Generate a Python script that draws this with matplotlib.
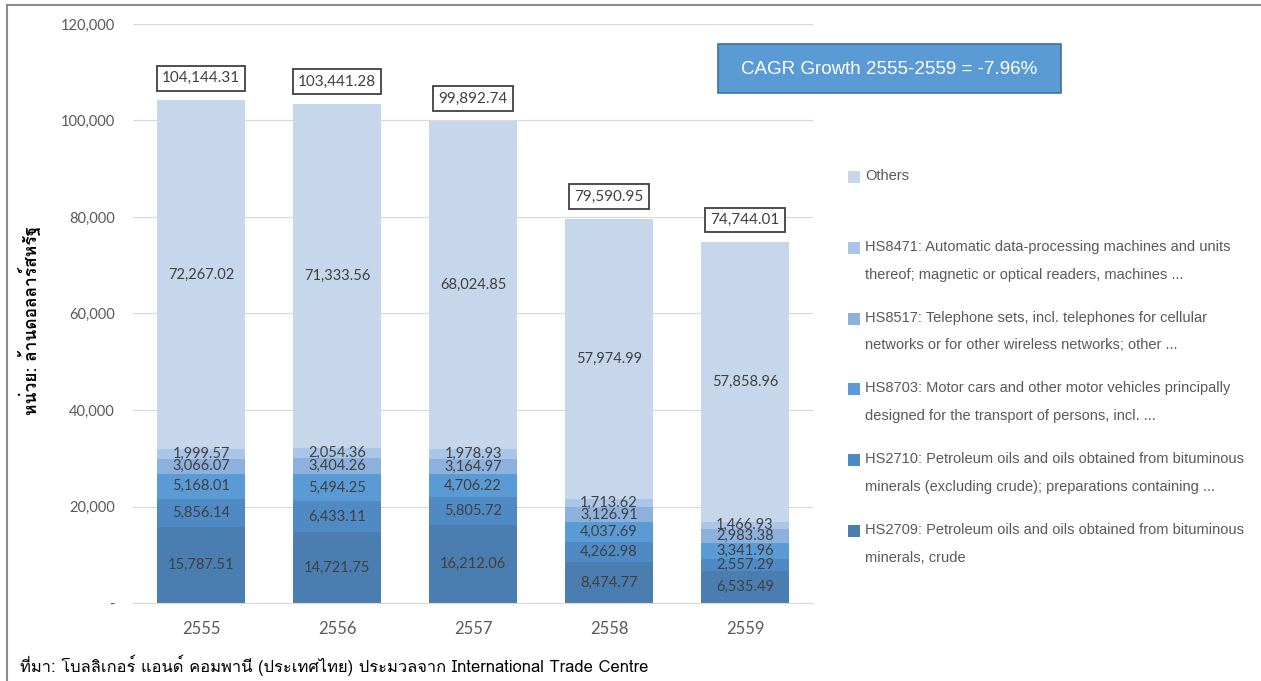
import matplotlib
matplotlib.use("Agg")
import matplotlib.pyplot as plt
from matplotlib import font_manager, ft2font
from matplotlib.patches import Rectangle
from matplotlib.ticker import FuncFormatter

# ---- data -------------------------------------------------------------
years = ["2555", "2556", "2557", "2558", "2559"]
hs2709 = [15787.51, 14721.75, 16212.06, 8474.77, 6535.49]
hs2710 = [5856.14, 6433.11, 5805.72, 4262.98, 2557.29]
hs8703 = [5168.01, 5494.25, 4706.22, 4037.69, 3341.96]
hs8517 = [3066.07, 3404.26, 3164.97, 3126.91, 2983.38]
hs8471 = [1999.57, 2054.36, 1978.93, 1713.62, 1466.93]
others = [72267.02, 71333.56, 68024.85, 57974.99, 57858.96]
totals = [104144.31, 103441.28, 99892.74, 79590.95, 74744.01]

series_labels = [
    "HS2709: Petroleum oils and oils obtained from bituminous\nminerals, crude",
    "HS2710: Petroleum oils and oils obtained from bituminous\nminerals (excluding crude); preparations containing ...",
    "HS8703: Motor cars and other motor vehicles principally\ndesigned for the transport of persons, incl. ...",
    "HS8517: Telephone sets, incl. telephones for cellular\nnetworks or for other wireless networks; other ...",
    "HS8471: Automatic data-processing machines and units\nthereof; magnetic or optical readers, machines ...",
    "Others",
]
series_values = [hs2709, hs2710, hs8703, hs8517, hs8471, others]
series_colors = ["#4A7EB1", "#4F8AC4", "#5B9BD5", "#8DB1DC", "#ABC5E6", "#C6D7EC"]

y_ticks = [0, 20000, 40000, 60000, 80000, 100000, 120000]
cagr_text = "CAGR Growth 2555-2559 = -7.96%"
y_title = "หน่วย: ล้านดอลลาร์สหรัฐ"
source_text = "ที่มา: โบลลิเกอร์ แอนด์ คอมพานี (ประเทศไทย) ประมวลจาก International Trade Centre"


def thai_family():
    """Return the name of an installed font that covers Thai script."""
    for entry in font_manager.fontManager.ttflist:
        try:
            if 0x0E01 in ft2font.FT2Font(entry.fname).get_charmap():
                return entry.name
        except Exception:
            continue
    return None


thai = thai_family()
thai_fams = ([thai] if thai else []) + ["Liberation Sans", "DejaVu Sans"]

num_font = ["Lato", "DejaVu Sans"]
txt_gray = "#595959"
lbl_gray = "#404040"

fig = plt.figure(figsize=(12.61, 6.81), dpi=100)
ax = fig.add_axes([0.1055, 0.1145, 0.5392, 0.8503])

x = list(range(len(years)))
bar_w = 0.65
bottoms = [0.0] * len(years)
for vals, color in zip(series_values, series_colors):
    ax.bar(x, vals, bar_w, bottom=bottoms, color=color, edgecolor="none", zorder=2)
    for i, v in enumerate(vals):
        ax.text(i, bottoms[i] + v / 2, f"{v:,.2f}", ha="center", va="center",
                fontsize=10.5, color=lbl_gray, family=num_font, zorder=3)
    bottoms = [b + v for b, v in zip(bottoms, vals)]

for i, t in enumerate(totals):
    ax.annotate(f"{t:,.2f}", (i, t), xytext=(0, 11), textcoords="offset points",
                ha="center", va="bottom", fontsize=11, color=lbl_gray, family=num_font,
                bbox=dict(boxstyle="square,pad=0.35", fc="white", ec="#404040", lw=1.3),
                zorder=4)

ax.set_xlim(-0.5, len(years) - 0.5)
ax.set_ylim(0, 120000)
ax.set_yticks(y_ticks)
ax.yaxis.set_major_formatter(FuncFormatter(lambda v, p: "-" if v == 0 else f"{v:,.0f}"))
ax.set_xticks(x)
ax.set_xticklabels(years)
ax.tick_params(axis="both", length=0, labelcolor=txt_gray)
ax.tick_params(axis="y", labelsize=10.5, pad=13)
ax.tick_params(axis="x", labelsize=12, pad=13)
for lab in ax.get_yticklabels() + ax.get_xticklabels():
    lab.set_family(num_font)
ax.grid(axis="y", color="#D9D9D9", lw=0.8, zorder=0)
for side in ("top", "right", "left"):
    ax.spines[side].set_visible(False)
ax.spines["bottom"].set_color("#D9D9D9")

fig.text(30 / 1261, 1 - 320 / 681, y_title, rotation=90, ha="center", va="center",
         fontsize=12.5, fontweight="bold", family=thai_fams, color="black")

# legend, drawn top-down from "Others"
leg_x = 848 / 1261
for k, idx in enumerate(range(len(series_labels) - 1, -1, -1)):
    y_px = 177 + 70.8 * k
    fig.patches.append(Rectangle((leg_x, 1 - (y_px + 6) / 681), 12 / 1261, 12 / 681,
                                 transform=fig.transFigure, fc=series_colors[idx],
                                 ec="none"))
    fig.text(865 / 1261, 1 - (y_px - 8) / 681, series_labels[idx], ha="left", va="top",
             fontsize=10.5, color=txt_gray, family=["Liberation Sans"], linespacing=2.25)

# CAGR box
fig.patches.append(Rectangle((718 / 1261, 1 - 93 / 681), 343 / 1261, 49 / 681,
                             transform=fig.transFigure, fc="#5B9BD5", ec="#41719C", lw=1.2))
fig.text(889.5 / 1261, 1 - 69 / 681, cagr_text, ha="center", va="center",
         fontsize=13.5, color="white", family=["Liberation Sans"])

fig.text(20 / 1261, 1 - 665 / 681, source_text, ha="left", va="center",
         fontsize=11.9, color="black", family=thai_fams)

# outer frame on top and left edges
fig.add_artist(plt.Line2D([7 / 1261, 1], [1 - 5 / 681, 1 - 5 / 681],
                          transform=fig.transFigure, color="#8C8C8C", lw=1.5))
fig.add_artist(plt.Line2D([7 / 1261, 7 / 1261], [0, 1 - 5 / 681],
                          transform=fig.transFigure, color="#8C8C8C", lw=1.5))

fig.savefig("out.png", dpi=100)
